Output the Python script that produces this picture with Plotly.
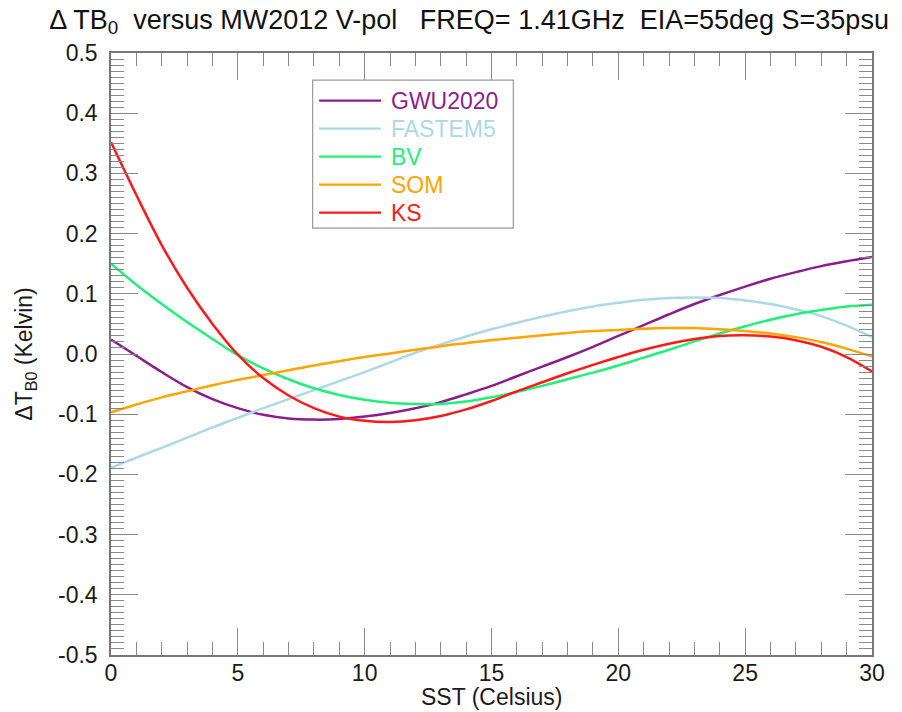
import plotly.graph_objects as go

sst = list(range(0, 31))

gwu2020 = [0.024, -0.003, -0.030, -0.055, -0.075, -0.090, -0.101, -0.107, -0.109, -0.108,
           -0.104, -0.098, -0.090, -0.080, -0.067, -0.053, -0.037, -0.021, -0.005, 0.012,
           0.030, 0.048, 0.066, 0.083, 0.098, 0.112, 0.125, 0.136, 0.146, 0.154, 0.161]
fastem5 = [-0.189, -0.172, -0.156, -0.139, -0.122, -0.106, -0.090, -0.075, -0.060, -0.045,
           -0.030, -0.014, 0.002, 0.016, 0.029, 0.041, 0.052, 0.062, 0.071, 0.079,
           0.085, 0.090, 0.093, 0.094, 0.093, 0.089, 0.083, 0.074, 0.063, 0.047, 0.028]
bv = [0.150, 0.115, 0.083, 0.053, 0.025, -0.002, -0.024, -0.042, -0.057, -0.068,
      -0.076, -0.081, -0.083, -0.083, -0.079, -0.072, -0.063, -0.053, -0.042, -0.031,
      -0.019, -0.006, 0.007, 0.021, 0.034, 0.046, 0.057, 0.066, 0.073, 0.079, 0.082]
som = [-0.097, -0.084, -0.072, -0.062, -0.052, -0.043, -0.035, -0.027, -0.019, -0.012,
       -0.005, 0.001, 0.007, 0.013, 0.018, 0.023, 0.027, 0.031, 0.035, 0.038,
       0.040, 0.042, 0.043, 0.043, 0.041, 0.038, 0.034, 0.028, 0.020, 0.009, -0.004]
ks = [0.352, 0.264, 0.181, 0.110, 0.050, -0.001, -0.040, -0.069, -0.090, -0.104,
      -0.111, -0.113, -0.110, -0.103, -0.092, -0.078, -0.062, -0.047, -0.032, -0.018,
      -0.005, 0.007, 0.017, 0.025, 0.030, 0.031, 0.029, 0.023, 0.012, -0.005, -0.029]

series_names = ["GWU2020", "FASTEM5", "BV", "SOM", "KS"]
series_values = [gwu2020, fastem5, bv, som, ks]
series_colors = ["#8B1E8E", "#ADD8E6", "#1EF07A", "#FFA500", "#FF1A1A"]

x_tickvals = [0, 5, 10, 15, 20, 25, 30]
x_ticktext = ["0", "5", "10", "15", "20", "25", "30"]
y_tickvals = [-0.5, -0.4, -0.3, -0.2, -0.1, 0.0, 0.1, 0.2, 0.3, 0.4, 0.5]
y_ticktext = ["-0.5", "-0.4", "-0.3", "-0.2", "-0.1", "0.0", "0.1", "0.2", "0.3", "0.4", "0.5"]

FONT = "Liberation Sans, Arial, Helvetica, sans-serif"
TXT = "#1a1a1a"

fig = go.Figure()
for name, vals, col in zip(series_names, series_values, series_colors):
    fig.add_trace(go.Scatter(
        x=sst, y=vals, mode="lines", name=name, showlegend=False,
        line=dict(color=col, width=2.5, shape="spline", smoothing=1.0),
    ))

# Legend drawn as a framed box with long line samples and coloured labels
leg_box = dict(x0=0.265, x1=0.5287, y0=0.709, y1=0.955)
line_x0, line_x1, text_x = 0.2735, 0.3548, 0.3657
row_top, row_step = 0.9208, 0.04651
shapes = [dict(type="rect", xref="paper", yref="paper", **leg_box,
               line=dict(color="#999999", width=1.2), fillcolor="white", layer="above")]
annotations = []
for i, (name, col) in enumerate(zip(series_names, series_colors)):
    yy = row_top - i * row_step
    shapes.append(dict(type="line", xref="paper", yref="paper",
                       x0=line_x0, x1=line_x1, y0=yy, y1=yy,
                       line=dict(color=col, width=2.2), layer="above"))
    annotations.append(dict(xref="paper", yref="paper", x=text_x, y=yy,
                            xanchor="left", yanchor="middle", showarrow=False,
                            text=name, font=dict(family=FONT, size=23, color=col)))

# x-axis title placed just under the tick labels, as in the reference
annotations.append(dict(xref="paper", yref="paper", x=0.5, y=-0.069,
                        xanchor="center", yanchor="middle", showarrow=False,
                        text="SST (Celsius)", font=dict(family=FONT, size=23, color=TXT)))

axis_common = dict(
    showgrid=False, zeroline=False,
    showline=True, linecolor="#777777", linewidth=1.5, mirror="ticks",
    ticks="inside", tickcolor="#888888", tickwidth=1.2,
    tickfont=dict(family=FONT, size=23, color=TXT),
)

fig.update_xaxes(
    range=[0, 30], tickvals=x_tickvals, ticktext=x_ticktext, ticklen=27,
    ticklabelstandoff=-3,
    minor=dict(dtick=1, ticklen=13, ticks="inside", tickcolor="#888888", tickwidth=1.2),
    **axis_common,
)
fig.update_yaxes(
    range=[-0.5, 0.5], tickvals=y_tickvals, ticktext=y_ticktext, ticklen=27,
    ticklabelstandoff=7,
    minor=dict(dtick=0.01, ticklen=13, ticks="inside", tickcolor="#888888", tickwidth=1.2),
    title=dict(text="ΔT<sub>B0</sub> (Kelvin)", font=dict(family=FONT, size=23, color=TXT), standoff=19),
    **axis_common,
)

fig.update_layout(
    width=902, height=712,
    margin=dict(l=111, r=30, t=53, b=57, autoexpand=False),
    plot_bgcolor="white", paper_bgcolor="white",
    title=dict(
        text="Δ TB<sub>0</sub>  versus MW2012 V-pol   FREQ= 1.41GHz  EIA=55deg S=35psu",
        font=dict(family=FONT, size=27, color="#111111"),
        x=0.52, xref="container", xanchor="center",
        y=0.973, yref="container", yanchor="middle",
    ),
    shapes=shapes,
    annotations=annotations,
    showlegend=False,
)

fig.write_html("out.html")
